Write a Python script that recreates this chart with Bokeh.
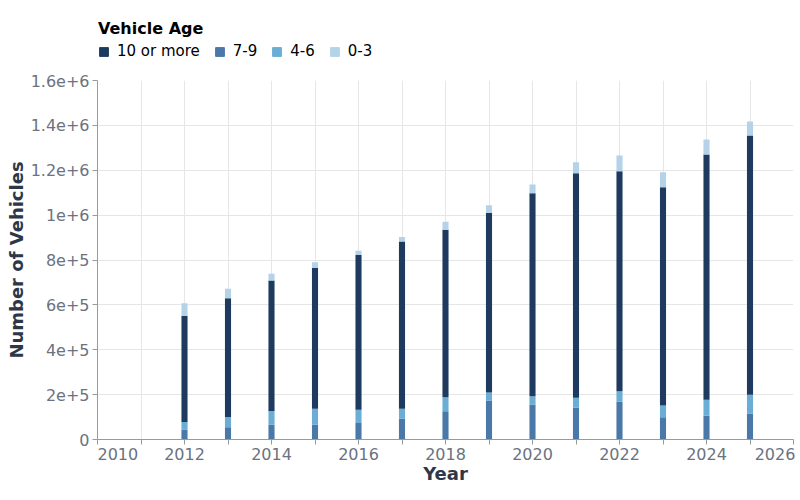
from bokeh.plotting import figure
from bokeh.layouts import column
from bokeh.models import Legend, LegendItem, FixedTicker
from bokeh.embed import file_html
from bokeh.resources import INLINE

# data (vehicles per year, by age group)
years = [2012, 2013, 2014, 2015, 2016, 2017, 2018, 2019, 2020, 2021, 2022, 2023, 2024, 2025]
age_7_9 = [45000, 55000, 66000, 66000, 74000, 92000, 126000, 174000, 156000, 141000, 168000, 99000, 106000, 116000]
age_4_6 = [33000, 45000, 61000, 71000, 59000, 45000, 62000, 36000, 37000, 45000, 47000, 52000, 71000, 83000]
age_10_plus = [474000, 530000, 582000, 628000, 689000, 746000, 747000, 801000, 905000, 1001000, 981000, 973000, 1093000, 1156000]
age_0_3 = [55000, 42000, 30000, 25000, 19000, 19000, 36000, 33000, 39000, 49000, 70000, 67000, 67000, 62000]

groups = ["7-9", "4-6", "10 or more", "0-3"]  # stacking order, bottom to top
legend_order = ["10 or more", "7-9", "4-6", "0-3"]
colors = {"10 or more": "#1e3a5f", "7-9": "#4a78a8", "4-6": "#6aaed6", "0-3": "#b4d3e9"}

y_ticks = [0, 200000, 400000, 600000, 800000, 1000000, 1200000, 1400000, 1600000]
y_labels = ["0", "2e+5", "4e+5", "6e+5", "8e+5", "1e+6", "1.2e+6", "1.4e+6", "1.6e+6"]

FONT = "DejaVu Sans"

data = {"year": years, "7-9": age_7_9, "4-6": age_4_6, "10 or more": age_10_plus, "0-3": age_0_3}

# main chart
p = figure(width=800, height=430, x_range=(2010, 2026), y_range=(0, 1600000),
           output_backend="svg", toolbar_location=None,
           min_border_left=97, min_border_right=7, min_border_top=10, min_border_bottom=61)
p.outline_line_color = None

p.vbar_stack(groups, x="year", width=0.14, source=data,
             color=[colors[g] for g in groups], line_width=0)

# x axis: a tick for every year, label on even years; end labels padded to sit flush
p.xaxis.ticker = FixedTicker(ticks=list(range(2010, 2027)))
x_labels = {yr: (str(yr) if yr % 2 == 0 else "") for yr in range(2010, 2027)}
x_labels[2010] = "\u00a0" * 8 + "2010"
x_labels[2026] = "2026\u00a0"
p.xaxis.major_label_overrides = x_labels
p.yaxis.ticker = FixedTicker(ticks=y_ticks)
p.yaxis.major_label_overrides = dict(zip(y_ticks, y_labels))

p.xaxis.axis_label = "Year"
p.yaxis.axis_label = "Number of Vehicles"
for ax in (p.xaxis, p.yaxis):
    ax.axis_label_text_font = FONT
    ax.axis_label_text_font_size = "18px"
    ax.axis_label_text_font_style = "bold"
    ax.axis_label_text_color = "#2d3748"
    ax.major_label_text_font = FONT
    ax.major_label_text_font_size = "16px"
    ax.major_label_text_color = "#6b7280"
    ax.axis_line_color = "#9a9a9a"
    ax.major_tick_line_color = "#9a9a9a"
    ax.major_tick_out = 5
    ax.major_tick_in = 0
    ax.minor_tick_line_color = None
p.xaxis.major_label_standoff = 0
p.yaxis.major_label_standoff = 3
p.xaxis.axis_label_standoff = -4
p.yaxis.axis_label_standoff = 1

p.xgrid.grid_line_color = "#e6e6e6"
p.ygrid.grid_line_color = "#e6e6e6"

# legend strip above the chart (swatch renderers have zero height, nothing is drawn)
lg = figure(width=800, height=70, x_range=(0, 1), y_range=(0, 1),
            output_backend="svg", toolbar_location=None,
            x_axis_location=None, y_axis_location=None, min_border=0)
lg.outline_line_color = None
lg.grid.grid_line_color = None
swatches = {g: lg.vbar(x=[-5], top=[0], width=0.1, color=colors[g]) for g in legend_order}

legend = Legend(items=[LegendItem(label=g, renderers=[swatches[g]]) for g in legend_order],
                orientation="horizontal", location=(1, 10),
                title="Vehicle Age", title_text_font=FONT, title_text_font_size="16px",
                title_text_font_style="bold", title_text_color="#000000", title_standoff=4,
                label_text_font=FONT, label_text_font_size="15px", label_text_color="#000000",
                glyph_width=11, glyph_height=11, label_standoff=8, spacing=14,
                padding=0, margin=0, border_line_color=None, background_fill_alpha=0)
lg.add_layout(legend, "center")

page = column(lg, p, spacing=0)
open("out.html", "w").write(file_html(page, INLINE))
